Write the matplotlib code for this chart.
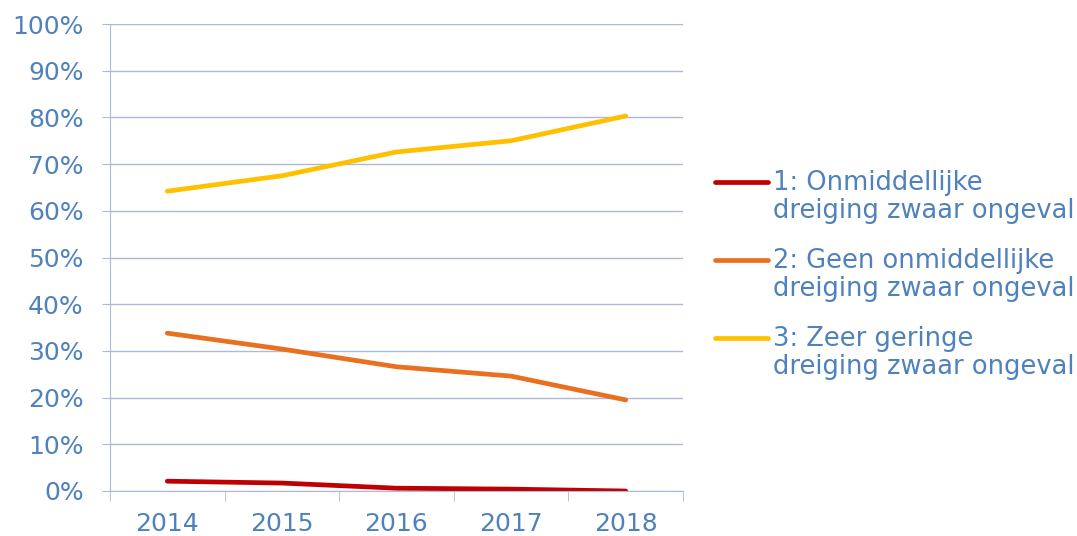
import matplotlib.pyplot as plt
from matplotlib.lines import Line2D
from matplotlib.ticker import FixedLocator

# Gegevens
jaren = ["2014", "2015", "2016", "2017", "2018"]
reeks_1 = [2.1, 1.7, 0.6, 0.4, 0.0]
reeks_2 = [33.8, 30.4, 26.6, 24.6, 19.5]
reeks_3 = [64.2, 67.5, 72.6, 75.0, 80.3]
labels = [
    "1: Onmiddellijke\ndreiging zwaar ongeval",
    "2: Geen onmiddellijke\ndreiging zwaar ongeval",
    "3: Zeer geringe\ndreiging zwaar ongeval",
]
kleuren = ["#C00000", "#E8701E", "#FFC000"]

tekst_kleur = "#4F81BD"
lijn_kleur = "#AEB9D8"
plt.rcParams["font.family"] = ["DejaVu Sans"]

fig = plt.figure(figsize=(10.77, 5.36), dpi=100)
ax = fig.add_axes([110 / 1077, 45 / 536, 573 / 1077, 467 / 536])

x = range(len(jaren))
for waarden, kleur in zip([reeks_1, reeks_2, reeks_3], kleuren):
    ax.plot(x, waarden, color=kleur, linewidth=3.4, solid_capstyle="round")

ax.set_xlim(-0.5, len(jaren) - 0.5)
ax.set_ylim(0, 100)
ax.set_yticks(range(0, 101, 10))
ax.set_yticklabels([f"{v}%" for v in range(0, 101, 10)])
ax.set_xticks(list(x))
ax.set_xticklabels(jaren)
ax.xaxis.set_minor_locator(FixedLocator([i - 0.5 for i in range(len(jaren) + 1)]))

ax.grid(axis="y", color=lijn_kleur, linewidth=1)
ax.set_axisbelow(True)
for kant in ["top", "right"]:
    ax.spines[kant].set_visible(False)
for kant in ["left", "bottom"]:
    ax.spines[kant].set_color(lijn_kleur)

ax.tick_params(axis="y", length=6, color=lijn_kleur, pad=13, labelsize=18, labelcolor=tekst_kleur)
ax.tick_params(axis="x", which="major", length=0, pad=15, labelsize=18, labelcolor=tekst_kleur)
ax.tick_params(axis="x", which="minor", length=7, color=lijn_kleur)

# Legenda handmatig, lijnstuk naast de eerste tekstregel
posities = [182, 260, 338]
for tekst, kleur, y in zip(labels, kleuren, posities):
    yf = 1 - y / 536
    fig.add_artist(Line2D([715 / 1077, 768 / 1077], [yf, yf], color=kleur,
                          linewidth=3.4, solid_capstyle="round"))
    fig.text(773 / 1077, yf + 12 / 536, tekst, ha="left", va="top",
             fontsize=18.5, color=tekst_kleur, linespacing=1.12)

fig.savefig("out.png", dpi=100)
